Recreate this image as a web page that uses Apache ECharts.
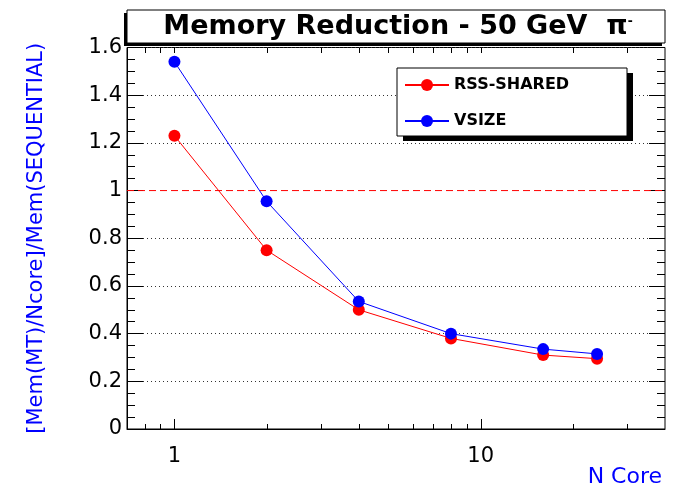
<!DOCTYPE html>
<html>
<head>
<meta charset="utf-8">
<script src="https://cdn.jsdelivr.net/npm/echarts@6/dist/echarts.min.js"></script>
<style>
  html, body { margin: 0; padding: 0; background: #fff; }
  #chart { width: 677px; height: 488px; }
</style>
</head>
<body>
<div id="chart"></div>
<script>
// values
const nCores = [1, 2, 4, 8, 16, 24];
const rssShared = [1.23, 0.75, 0.50, 0.38, 0.31, 0.295];
const vsize = [1.54, 0.955, 0.535, 0.40, 0.335, 0.315];

const xMin = 0.7;
const xMax = 40;
const yMin = 0;
const yMax = 1.6;
const yStep = 0.2;
const unity = 1; // red dashed reference level
// tick positions on the log axis (ROOT style), labels only on the decades
const xTicks = [0.8, 0.9, 1, 2, 3, 4, 5, 6, 7, 8, 9, 10, 20, 30];
const xLabels = [1, 10];

const font = '"DejaVu Sans", "Liberation Sans", Arial, sans-serif';
const black = '#000';
const red = '#ff0000';
const blue = '#0000ff';

const isLabelled = (v) => xLabels.some((l) => Math.abs(v - l) < 1e-6);

// hide the dotted grid line under the red dashed y=1 line
const nLines = Math.round((yMax - yMin) / yStep) + 1;
const gridColors = Array.from({ length: nLines }, (_, i) =>
  Math.abs(yMin + i * yStep - unity) < 1e-6 ? 'rgba(0,0,0,0)' : '#333'
);

const chart = echarts.init(document.getElementById('chart'), null, { renderer: 'canvas' });

const option = {
  animation: false,
  backgroundColor: '#fff',
  textStyle: { fontFamily: font },
  // half-pixel offset keeps the 1px dashed y=1 line crisp
  grid: {
    left: 127, right: 12, top: 47.5, bottom: 56.5,
    show: true, borderColor: black, borderWidth: 1,
  },
  graphic: [
    // title box with its shadow
    { type: 'rect', z: 5, shape: { x: 124, y: 13, width: 538, height: 33 }, style: { fill: black } },
    { type: 'rect', z: 5, shape: { x: 127, y: 10, width: 538, height: 33 }, style: { fill: '#fff', stroke: black, lineWidth: 1 } },
    {
      type: 'text', z: 6, x: 398, y: 27,
      style: {
        text: 'Memory Reduction - 50 GeV  π{sup|-}',
        align: 'center', verticalAlign: 'middle',
        font: 'bold 27px ' + font, fill: black,
        rich: {
          sup: { fontSize: 15, fontWeight: 'bold', verticalAlign: 'top', padding: [0, 0, 12, 0] },
        },
      },
    },
    // legend box with its shadow
    { type: 'rect', z: 5, shape: { x: 403, y: 73, width: 230, height: 68 }, style: { fill: black } },
    { type: 'rect', z: 5, shape: { x: 397, y: 68, width: 230, height: 68 }, style: { fill: '#fff', stroke: black, lineWidth: 1 } },
  ],
  legend: {
    z: 10,
    orient: 'vertical',
    left: 404, top: 77,
    itemWidth: 44, itemHeight: 15, itemGap: 20,
    padding: 0,
    data: ['RSS-SHARED', 'VSIZE'],
    textStyle: { fontFamily: font, fontWeight: 'bold', fontSize: 16, color: black, padding: [3, 0, 0, 0] },
  },
  xAxis: {
    type: 'log',
    logBase: 10,
    min: xMin, max: xMax,
    axisLine: { show: true, lineStyle: { color: black, width: 1 } },
    axisTick: { show: false },
    splitLine: { show: false },
    axisLabel: {
      margin: 17,
      color: black, fontFamily: font, fontSize: 21,
      showMinLabel: false, showMaxLabel: false,
      formatter: (v) => (isLabelled(v) ? String(Math.round(v)) : ''),
    },
    name: 'N Core',
    nameLocation: 'end',
    nameGap: -3,
    nameTextStyle: {
      color: blue, fontFamily: font, fontSize: 22,
      align: 'right', verticalAlign: 'top', padding: [37, 0, 0, 0],
    },
  },
  yAxis: [
    {
      type: 'value',
      min: yMin, max: yMax, interval: yStep,
      axisLine: { show: true, lineStyle: { color: black, width: 1 } },
      axisTick: { show: true, inside: true, length: 16, lineStyle: { color: black } },
      minorTick: { show: true, splitNumber: 4, length: 8, lineStyle: { color: black } },
      splitLine: { show: true, lineStyle: { color: gridColors, type: [1, 3], width: 1 } },
      axisLabel: { margin: 5, color: black, fontFamily: font, fontSize: 21 },
      name: '[Mem(MT)/Ncore]/Mem(SEQUENTIAL)',
      nameLocation: 'middle',
      nameGap: 80,
      nameTextStyle: { color: blue, fontFamily: font, fontSize: 21 },
    },
    {
      type: 'value',
      position: 'right',
      min: yMin, max: yMax, interval: yStep,
      axisLine: { show: false },
      axisTick: { show: true, inside: true, length: 16, lineStyle: { color: black } },
      minorTick: { show: true, splitNumber: 4, length: 8, lineStyle: { color: black } },
      splitLine: { show: false },
      axisLabel: { show: false },
    },
  ],
  series: [
    {
      // y = 1 reference across the whole x range
      name: 'unity',
      type: 'line',
      silent: true,
      data: [[xMin, unity], [xMax, unity]],
      symbol: 'none',
      color: red,
      lineStyle: { color: red, type: [7, 4], width: 1 },
      z: 1,
    },
    {
      name: 'RSS-SHARED',
      type: 'line',
      data: nCores.map((n, i) => [n, rssShared[i]]),
      color: red,
      symbol: 'circle', symbolSize: 12,
      lineStyle: { width: 1, color: red },
      itemStyle: { color: red },
      z: 3,
    },
    {
      name: 'VSIZE',
      type: 'line',
      data: nCores.map((n, i) => [n, vsize[i]]),
      color: blue,
      symbol: 'circle', symbolSize: 12,
      lineStyle: { width: 1, color: blue },
      itemStyle: { color: blue },
      z: 4,
    },
    {
      // log-axis tick marks on the bottom and top frame edges
      type: 'custom',
      silent: true,
      clip: false,
      z: 2,
      data: xTicks.map((v) => [v, yMin]),
      renderItem: (params, api) => {
        const v = api.value(0);
        const b = api.coord([v, yMin]);
        const t = api.coord([v, yMax]);
        const x = Math.round(b[0]) + 0.5;
        const yb = Math.round(b[1]);
        const yt = Math.round(t[1]);
        const len = isLabelled(v) ? 10 : 5;
        return {
          type: 'group',
          children: [
            { type: 'line', shape: { x1: x, y1: yb, x2: x, y2: yb - len }, style: { stroke: black, lineWidth: 1 } },
            { type: 'line', shape: { x1: x, y1: yt, x2: x, y2: yt + 5 }, style: { stroke: black, lineWidth: 1 } },
          ],
        };
      },
    },
  ],
};

chart.setOption(option);
</script>
</body>
</html>
